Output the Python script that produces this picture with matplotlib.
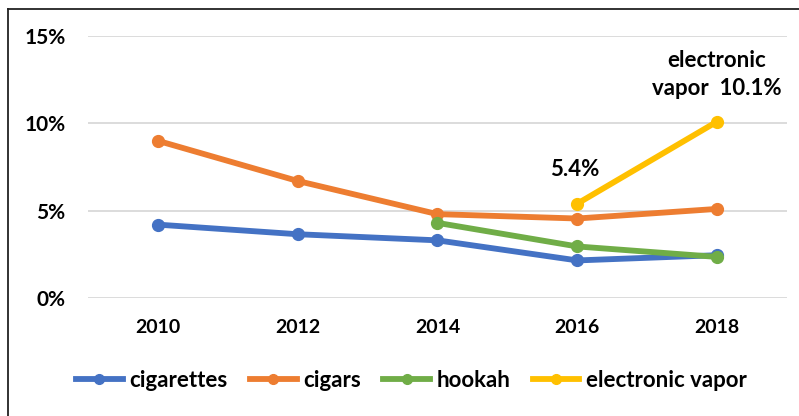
import matplotlib
matplotlib.use("Agg")
import matplotlib.pyplot as plt
from matplotlib.lines import Line2D

# Data
years = [2010, 2012, 2014, 2016, 2018]
cigarettes = [4.2, 3.65, 3.3, 2.15, 2.45]
cigars = [9.0, 6.7, 4.8, 4.55, 5.1]
hookah_years = [2014, 2016, 2018]
hookah = [4.3, 2.95, 2.35]
vapor_years = [2016, 2018]
vapor = [5.4, 10.1]
y_ticks = [0, 5, 10, 15]
y_tick_labels = ["0%", "5%", "10%", "15%"]

COLORS = {"cigarettes": "#4472C4", "cigars": "#ED7D31",
          "hookah": "#70AD47", "electronic vapor": "#FFC000"}

plt.rcParams["font.family"] = ["Lato", "DejaVu Sans"]

fig = plt.figure(figsize=(7.99, 4.16), dpi=100)
ax = fig.add_axes([0.110, 0.2837, 0.875, 0.6298])

series = [
    ("cigarettes", years, cigarettes),
    ("cigars", years, cigars),
    ("hookah", hookah_years, hookah),
    ("electronic vapor", vapor_years, vapor),
]
for name, xs, ys in series:
    ax.plot(xs, ys, color=COLORS[name], linewidth=4.2, marker="o",
            markersize=8.5, label=name, clip_on=False, zorder=3)

ax.set_xlim(2009.0, 2019.0)
ax.set_ylim(0, 15)
ax.set_yticks(y_ticks)
ax.set_yticklabels(y_tick_labels)
ax.set_xticks(years)
ax.set_xticklabels([str(y) for y in years])
ax.grid(axis="y", color="#D9D9D9", linewidth=1.3)
ax.set_axisbelow(True)
for s in ax.spines.values():
    s.set_visible(False)
ax.tick_params(length=0)
ax.tick_params(axis="y", pad=16, labelsize=15)
ax.tick_params(axis="x", pad=15, labelsize=14)
for lab in ax.get_xticklabels() + ax.get_yticklabels():
    lab.set_fontweight("bold")

# data labels for electronic vapor
ax.annotate("5.4%", (vapor_years[0], vapor[0]), xytext=(-2, 17),
            textcoords="offset points", ha="center", va="bottom",
            fontsize=16, fontweight="bold")
ax.annotate("electronic\nvapor  10.1%", (vapor_years[1], vapor[1]),
            xytext=(0, 16), textcoords="offset points", ha="center",
            va="bottom", fontsize=16, fontweight="bold", linespacing=1.45)

handles = [Line2D([0], [0], color=COLORS[n], linewidth=4.2, marker="o",
                  markersize=7) for n, _, _ in series]
fig.legend(handles, [n for n, _, _ in series], loc="center",
           bbox_to_anchor=(0.515, 0.085), ncol=4, frameon=False,
           prop={"size": 16, "weight": "bold"}, handlelength=2.1,
           handletextpad=0.3, columnspacing=1.0)

# frame around the chart area (only top and left edges visible)
fig.add_artist(Line2D([8 / 799, 1], [1 - 9 / 416] * 2, color="#222222",
                      linewidth=1.3, transform=fig.transFigure))
fig.add_artist(Line2D([8 / 799] * 2, [0, 1 - 9 / 416], color="#222222",
                      linewidth=1.3, transform=fig.transFigure))

fig.savefig("out.png", dpi=100)
